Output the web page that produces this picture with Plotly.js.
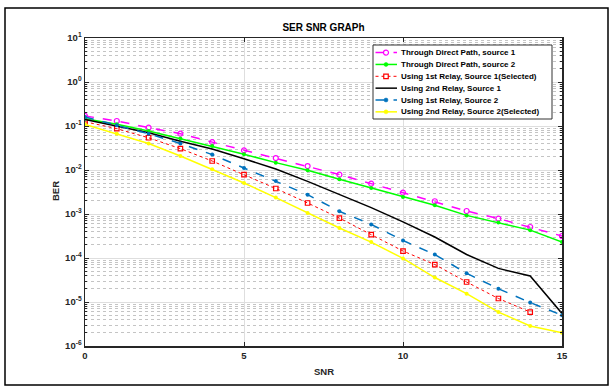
<!DOCTYPE html>
<html>
<head>
<meta charset="utf-8">
<script src="https://cdn.plot.ly/plotly-3.0.1.min.js"></script>
<style>
html,body{margin:0;padding:0;background:#fff;}
#chart{width:614px;height:387px;}
</style>
</head>
<body>
<div id="chart"></div>
<script>
// ---- data ----
const snr = [0,1,2,3,4,5,6,7,8,9,10,11,12,13,14,15];
const snrRelay1Src1 = [0,1,2,3,4,5,6,7,8,9,10,11,12,13,14];
const directSrc1 = [0.169,0.130,0.092,0.067,0.043,0.028,0.0187,0.0123,0.00785,0.0049,0.00306,0.00195,0.00117,0.000786,0.000507,0.000316];
const directSrc2 = [0.147,0.11,0.077,0.052,0.035,0.0228,0.0147,0.00985,0.00615,0.0039,0.00243,0.00158,0.00093,0.00064,0.00043,0.00023];
const relay1Src1 = [0.125,0.087,0.054,0.0306,0.016,0.00785,0.0038,0.00178,0.00081,0.00034,0.000144,7.1e-5,2.85e-5,1.2e-5,5.9e-6];
const relay2Src1 = [0.14,0.10,0.07,0.045,0.03,0.018,0.0105,0.0055,0.0028,0.0014,0.00066,0.0003,0.00012,5.8e-5,3.9e-5,5.5e-6];
const relay1Src2 = [0.16,0.104,0.067,0.04,0.0224,0.0111,0.0056,0.00275,0.00115,0.00058,0.00025,0.00012,4.5e-5,2.0e-5,9.7e-6,5e-6];
const relay2Src2 = [0.109,0.067,0.04,0.0208,0.0104,0.00507,0.00236,0.00105,0.00048,0.00023,9.8e-5,3.6e-5,1.55e-5,5.9e-6,2.85e-6,2.0e-6];
const seriesNames = ['Through Direct Path, source 1','Through Direct Path, source 2','Using 1st Relay, Source 1(Selected)','Using 2nd Relay, Source 1','Using 1st Relay, Source 2','Using 2nd Relay, Source 2(Selected)'];
const yTickVals = [1e1,1e0,1e-1,1e-2,1e-3,1e-4,1e-5,1e-6];
const yTickText = ['10<sup>1</sup>','10<sup>0</sup>','10<sup>-1</sup>','10<sup>-2</sup>','10<sup>-3</sup>','10<sup>-4</sup>','10<sup>-5</sup>','10<sup>-6</sup>'];
const xTickVals = [0,5,10,15];
const titleText = 'SER SNR GRAPh';
const xLabel = 'SNR';
const yLabel = 'BER';

// ---- styles ----
const FONT = 'Liberation Sans, Arial, Helvetica, sans-serif';
const W = 614, H = 387;
const M = {l:85, r:52, t:38, b:41};
const PW = W - M.l - M.r, PH = H - M.t - M.b;
const px = X => (X - M.l) / PW;
const py = Y => (H - M.b - Y) / PH;

const styles = [
  {color:'#FF00FF', dash:'dash', width:1.5, symbol:'circle-open', size:5, mline:1.2},
  {color:'#00FF00', dash:'solid', width:1.5, symbol:'circle', size:4, mline:0},
  {color:'#FF0000', dash:'dot', width:1, symbol:'square-open', size:4.5, mline:1.2},
  {color:'#000000', dash:'solid', width:1.5, symbol:null},
  {color:'#0072BD', dash:'dash', width:1.5, symbol:'circle', size:4, mline:0},
  {color:'#FFFF00', dash:'solid', width:1.5, symbol:'circle', size:4, mline:0}
];
const xs = [snr, snr, snrRelay1Src1, snr, snr, snr];
const ys = [directSrc1, directSrc2, relay1Src1, relay2Src1, relay1Src2, relay2Src2];

const traces = ys.map((y,i) => {
  const s = styles[i];
  const t = {x: xs[i], y: y, name: seriesNames[i], type:'scatter',
    mode: s.symbol ? 'lines+markers' : 'lines',
    line:{color:s.color, dash:s.dash, width:s.width}, showlegend:false};
  if (s.symbol) t.marker = {symbol:s.symbol, size:s.size, color:s.color, line:{color:s.color, width:s.mline}};
  return t;
});

// ---- custom legend ----
const shapes = [];
const annotations = [];
// outer frame
shapes.push({type:'rect', xref:'paper', yref:'paper', x0:px(5), x1:px(608), y0:py(8), y1:py(385), line:{color:'#000', width:1.5}, layer:'above'});
// legend box
shapes.push({type:'rect', xref:'paper', yref:'paper', x0:px(373), x1:px(552), y0:py(45), y1:py(119), line:{color:'#333', width:1}, fillcolor:'#fff', layer:'above'});
seriesNames.forEach((n,i) => {
  const Y = 52.6 + i*11.85;
  const s = styles[i];
  shapes.push({type:'line', xref:'paper', yref:'paper', x0:px(375.5), x1:px(397), y0:py(Y), y1:py(Y), line:{color:s.color, dash:s.dash, width:s.width}, layer:'above'});
  if (s.symbol) {
    const r = s.size/2;
    const open = s.symbol.indexOf('open') >= 0;
    shapes.push({type: s.symbol.indexOf('square')>=0 ? 'rect':'circle', xref:'paper', yref:'paper',
      xsizemode:'pixel', ysizemode:'pixel', xanchor:px(386), yanchor:py(Y),
      x0:-r, x1:r, y0:-r, y1:r, line:{color:s.color, width: open ? 1.2 : 0.5},
      fillcolor: open ? 'rgba(255,255,255,1)' : s.color, layer:'above'});
  }
  annotations.push({xref:'paper', yref:'paper', x:px(399), y:py(Y), xanchor:'left', yanchor:'middle',
    text:'<b>'+n+'</b>', showarrow:false, font:{family:FONT, size:8, color:'#000'}});
});
// axis labels
annotations.push({xref:'paper', yref:'paper', x:px(323.5), y:py(371), xanchor:'center', yanchor:'middle',
  text:'<b>'+xLabel+'</b>', showarrow:false, font:{family:FONT, size:9.5, color:'#262626'}});
annotations.push({xref:'paper', yref:'paper', x:px(55), y:py(191), xanchor:'center', yanchor:'middle', textangle:-90,
  text:'<b>'+yLabel+'</b>', showarrow:false, font:{family:FONT, size:9.5, color:'#262626'}});

const layout = {
  width:W, height:H, margin:M,
  paper_bgcolor:'#fff', plot_bgcolor:'#fff',
  showlegend:false,
  title:{text:'<b>'+titleText+'</b>', x:0.5, xref:'paper', y:1-27.7/H, yref:'container', yanchor:'middle', xanchor:'center',
    font:{family:FONT, size:10, color:'#000'}},
  xaxis:{range:[0,15], tickmode:'array', tickvals:xTickVals, ticks:'inside', ticklen:4, tickwidth:1, tickcolor:'#262626',
    showline:true, linecolor:'#262626', linewidth:1.5, mirror:'ticks', showgrid:true, gridcolor:'#dedede', gridwidth:1,
    zeroline:false, tickfont:{family:FONT, size:9.5, color:'#262626', weight:'bold'}},
  yaxis:{type:'log', range:[-6,1], tickmode:'array', tickvals:yTickVals, ticktext:yTickText, ticks:'inside', ticklen:4, tickwidth:1, tickcolor:'#262626',
    showline:true, linecolor:'#262626', linewidth:1.5, mirror:'ticks', showgrid:true, gridcolor:'#dedede', gridwidth:1,
    zeroline:false, tickfont:{family:FONT, size:9.5, color:'#262626', weight:'bold'},
    minor:{tickmode:'linear', dtick:'D1', ticks:'inside', ticklen:2, tickcolor:'#262626', showgrid:true, gridcolor:'#c4c4c4', griddash:'dot', gridwidth:1}},
  shapes:shapes,
  annotations:annotations
};
Plotly.newPlot('chart', traces, layout, {staticPlot:true, displayModeBar:false});
</script>
</body>
</html>
